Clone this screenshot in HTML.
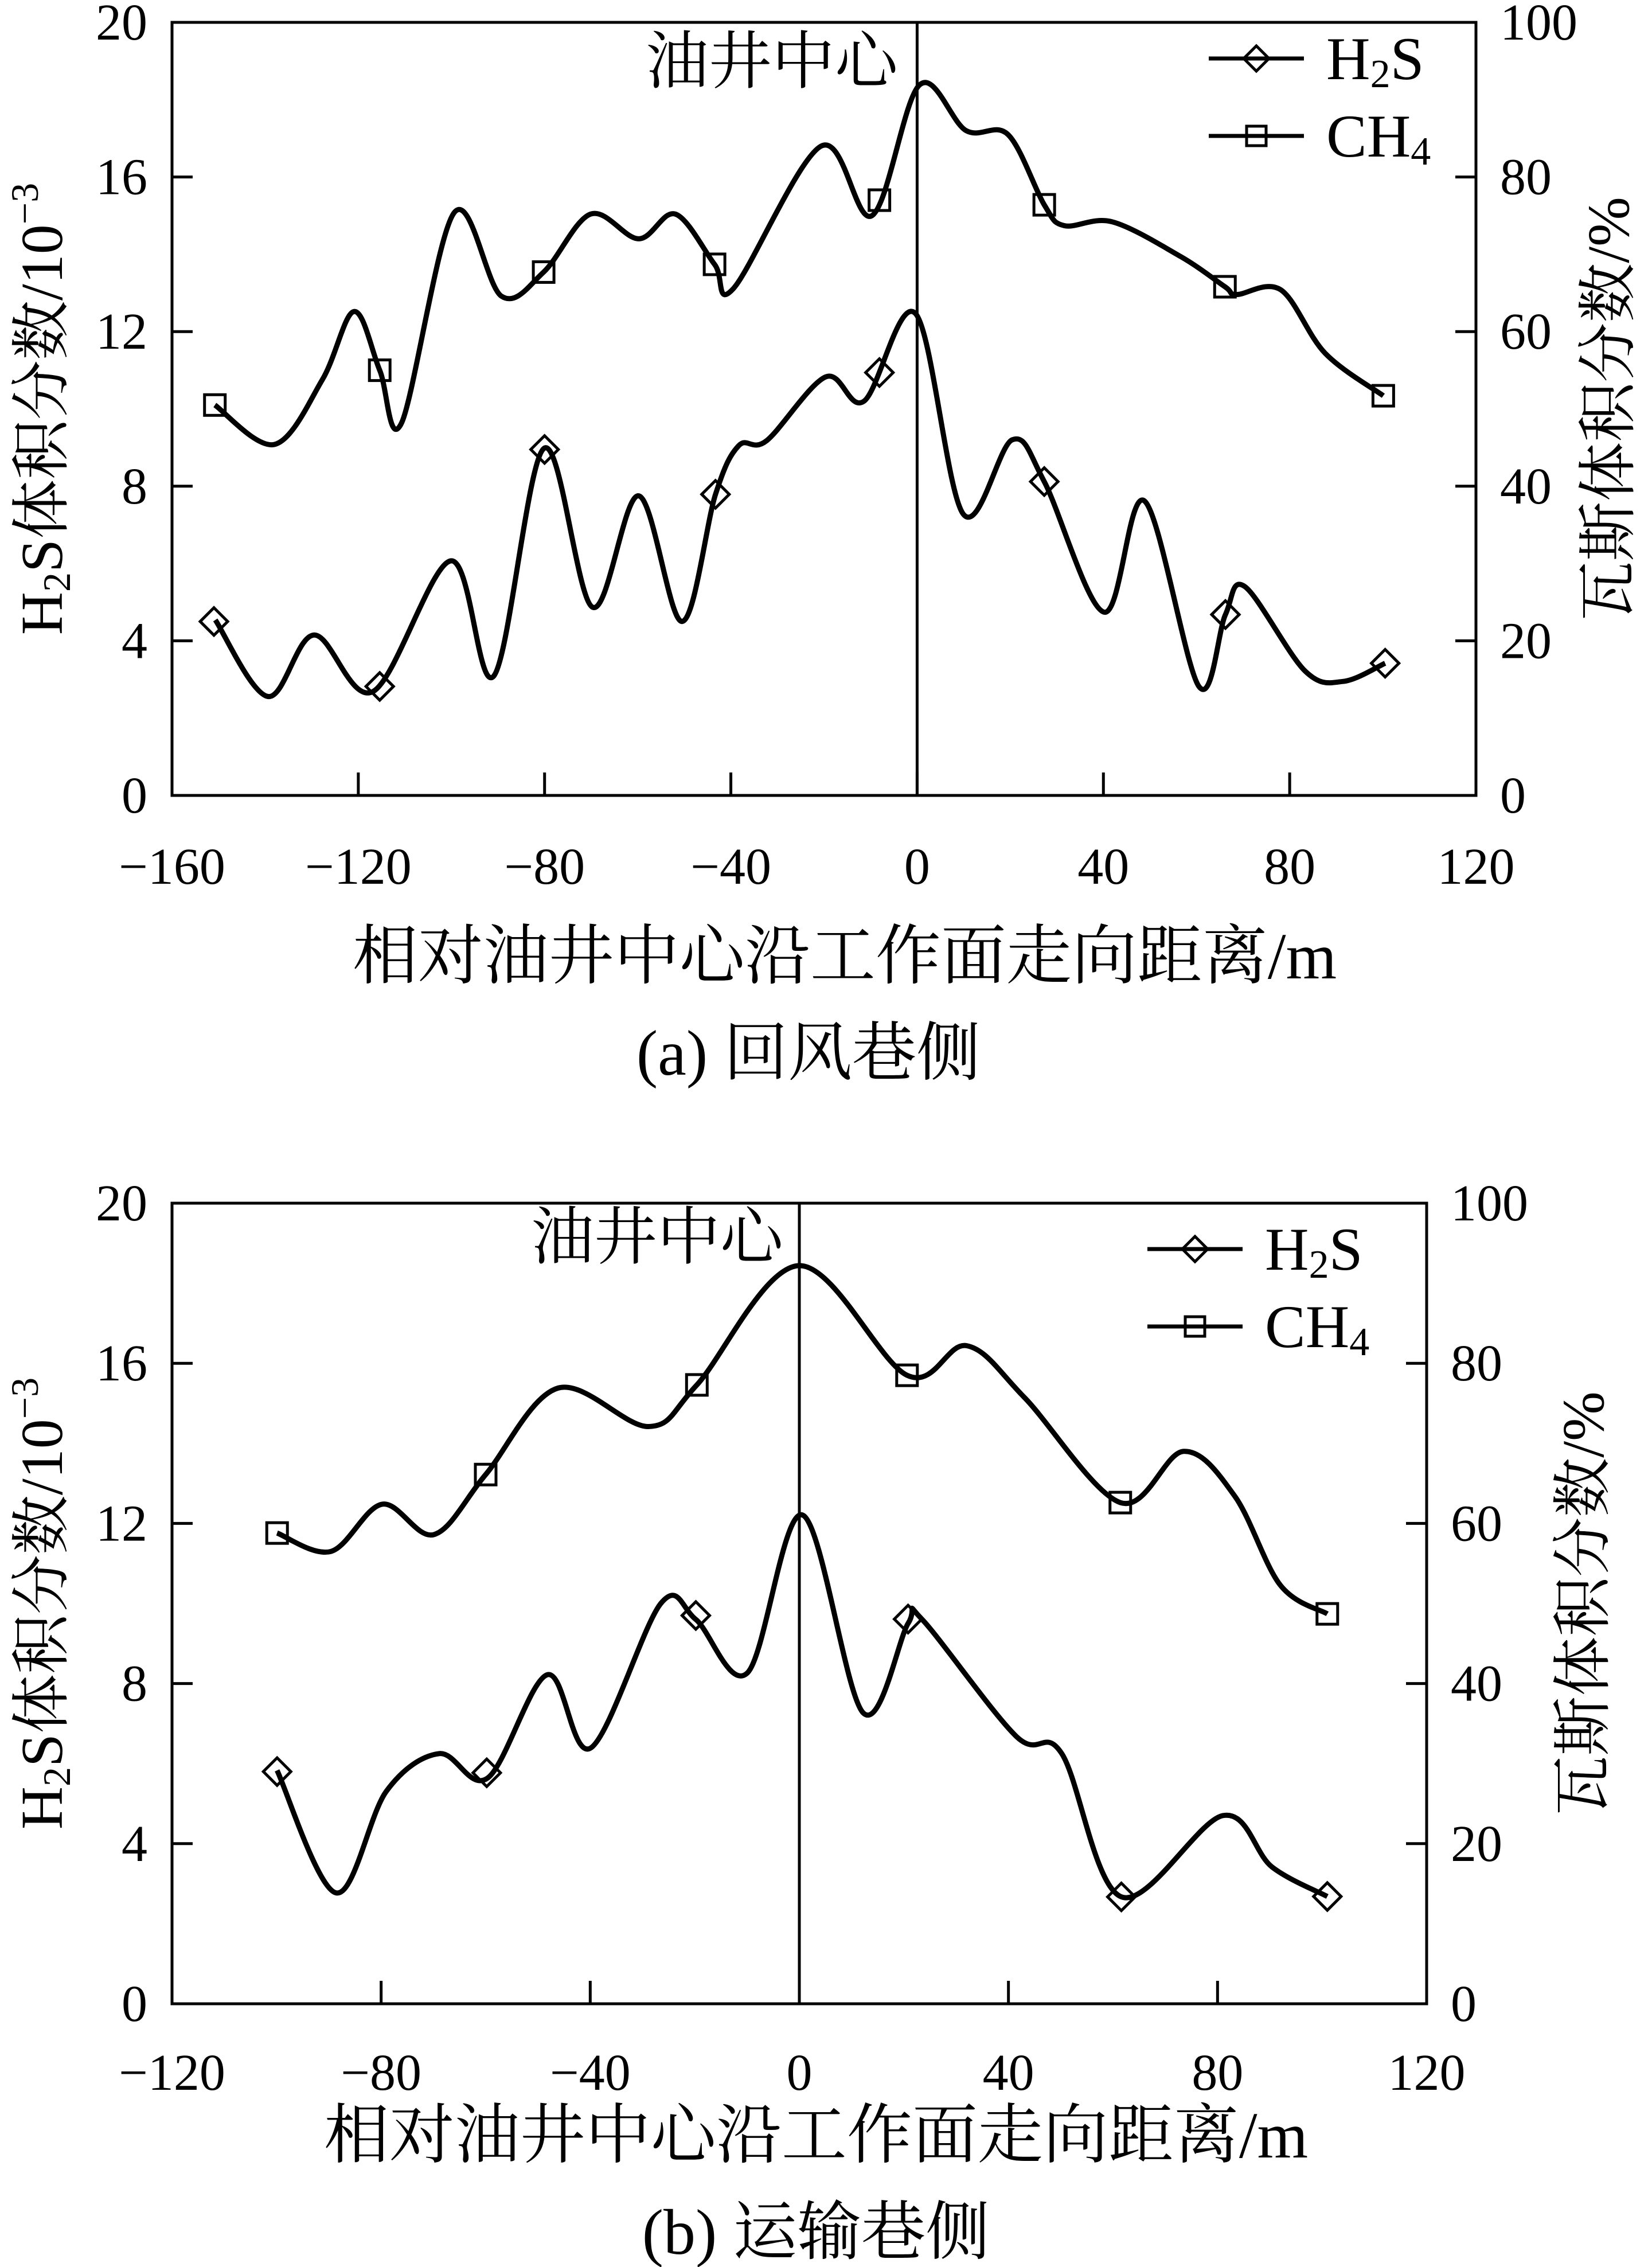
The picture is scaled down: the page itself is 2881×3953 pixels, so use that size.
<!DOCTYPE html>
<html><head><meta charset="utf-8"><style>
html,body{margin:0;padding:0;background:#fff;}
svg{display:block;}
text{font-family:"Liberation Serif","Noto Serif CJK SC",serif;fill:#000;}
</style></head><body>
<svg id="svg" xmlns="http://www.w3.org/2000/svg" width="2881" height="3953" viewBox="0 0 2881 3953"></svg>
<script>
// ---- Chart (a) data ----
const aH2sX = [-150.7,-139.4,-129.5,-116.8,-100.1,-90.9,-80.1,-69.7,-59.8,-50.5,-43.3,-38.3,-32.3,-19.6,-11.4,-0.3,9.9,20.4,27.3,40.2,48.8,60.5,66.2,70.4,83.3,91.5,100.5];
const aH2sV = [4.54,2.56,4.15,2.69,6.07,3.09,8.98,4.87,7.75,4.5,7.79,9.05,9.18,10.83,10.2,12.46,7.28,9.2,8.12,4.74,7.62,2.82,4.68,5.4,3.22,2.95,3.42];
const aH2sMarkX = [-151,-115.4,-80,-43.3,-8.1,27.3,66.2,100.5];
const aH2sMarkV = [4.5,2.82,8.95,7.79,10.94,8.12,4.68,3.42];
const aCh4X = [-150.8,-138,-127.7,-120.9,-115.4,-110.7,-99.4,-89.3,-80.2,-70.1,-59.8,-51.9,-43.5,-39.4,-20.6,-9.7,0.5,10.5,19.5,27.3,31.6,41.9,56.6,66.1,68.6,78.1,87.6,100.1];
const aCh4V = [50.5,45.4,53.8,62.6,55,48.2,75.4,64.6,67.7,75.2,72,75.2,68.7,65.6,84,75,91.9,86,85.5,76.4,73.7,74.2,69.7,65.8,64.8,65.4,57.2,51.7];
const aCh4MarkX = [-150.8,-115.4,-80.2,-43.5,-8.1,27.3,66.1,100.1];
const aCh4MarkV = [50.5,55,67.7,68.7,77,76.4,65.8,51.7];
const aXTicks = [-160,-120,-80,-40,0,40,80,120];
const aXTickLabels = ["\u2212160","\u2212120","\u221280","\u221240","0","40","80","120"];
// ---- Chart (b) data ----
const bH2sX = [-99.9,-88.6,-79,-68.9,-59.6,-48.2,-39.9,-26.5,-19.8,-9.9,0.6,12.2,20.8,23.5,41.5,50.2,61.6,81,90.4,101];
const bH2sV = [5.83,2.77,5.31,6.25,5.64,8.22,6.39,10.0,9.6,8.27,12.21,7.27,9.5,9.6,6.68,6.25,2.67,4.7,3.42,2.68];
const bH2sMarkX = [-99.9,-59.8,-19.8,20.8,61.6,101];
const bH2sMarkV = [5.8,5.77,9.7,9.61,2.67,2.68];
const bCh4X = [-99.9,-89.6,-79.8,-69.9,-60,-46.2,-28.9,-19.6,-0.1,20.6,32,43.1,61.4,73.5,83.3,92,101];
const bCh4V = [58.8,56.5,62.4,58.6,66.1,76.9,72.1,77.3,92.2,78.5,82.2,75.7,62.6,69,63.4,52.3,48.7];
const bCh4MarkX = [-99.9,-60,-19.6,20.6,61.4,101];
const bCh4MarkV = [58.8,66.1,77.3,78.5,62.6,48.7];
const bXTicks = [-120,-80,-40,0,40,80,120];
const bXTickLabels = ["\u2212120","\u221280","\u221240","0","40","80","120"];
const leftTicks = [0,4,8,12,16,20];
const leftTickLabels = ["0","4","8","12","16","20"];
const rightTicks = [0,20,40,60,80,100];
const rightTickLabels = ["0","20","40","60","80","100"];

const NS="http://www.w3.org/2000/svg";
const svg=document.getElementById('svg');
function mk(tag,attrs,parent){const e=document.createElementNS(NS,tag);for(const k in attrs)e.setAttribute(k,attrs[k]);(parent||svg).appendChild(e);return e;}
function spline(pts){
  let d="M"+pts[0][0].toFixed(1)+","+pts[0][1].toFixed(1);
  for(let i=0;i<pts.length-1;i++){
    const p0=pts[Math.max(0,i-1)],p1=pts[i],p2=pts[i+1],p3=pts[Math.min(pts.length-1,i+2)];
    const c1=[p1[0]+(p2[0]-p0[0])/6,p1[1]+(p2[1]-p0[1])/6];
    const c2=[p2[0]-(p3[0]-p1[0])/6,p2[1]-(p3[1]-p1[1])/6];
    d+=" C"+c1[0].toFixed(1)+","+c1[1].toFixed(1)+" "+c2[0].toFixed(1)+","+c2[1].toFixed(1)+" "+p2[0].toFixed(1)+","+p2[1].toFixed(1);
  }
  return d;
}
function diamond(g,x,y,r){const p=mk('path',{d:`M${x-r},${y} L${x},${y-r} L${x+r},${y} L${x},${y+r} Z`,fill:'none',stroke:'#000','stroke-width':5},g);return p;}
function square(g,x,y,s){return mk('rect',{x:x-s/2,y:y-s/2,width:s,height:s,fill:'none',stroke:'#000','stroke-width':5},g);}

function chart(c){
  const g=mk('g',{});
  
  
  const X=v=>c.x0+(v-c.xmin)/(c.xmax-c.xmin)*(c.x1-c.x0);
  const YL=v=>c.y1-v/20*(c.y1-c.y0);
  const YR=v=>c.y1-v/100*(c.y1-c.y0);
  const frame=mk('rect',{x:c.x0,y:c.y0,width:c.x1-c.x0,height:c.y1-c.y0,fill:'none',stroke:'#000','stroke-width':5},g);
  
  
  leftTicks.forEach((t,i)=>{
    const y=YL(t);
    const l=mk('line',{x1:c.x0,x2:c.x0+36,y1:y,y2:y,stroke:'#000','stroke-width':5},g);
    
    
    const tx=mk('text',{x:c.lx,y:y+30,'font-size':90,'text-anchor':'end'},g);tx.textContent=leftTickLabels[i];
    
    
  });
  rightTicks.forEach((t,i)=>{
    const y=YR(t);
    const l=mk('line',{x1:c.x1,x2:c.x1-36,y1:y,y2:y,stroke:'#000','stroke-width':5},g);
    
    
    const tx=mk('text',{x:c.rx,y:y+30,'font-size':90},g);tx.textContent=rightTickLabels[i];
    
    
  });
  c.xt.forEach((t,i)=>{
    const x=X(t);
    if(t>c.xmin&&t<c.xmax){const l=mk('line',{x1:x,x2:x,y1:c.y1,y2:c.y1-40,stroke:'#000','stroke-width':5},g);
    
    }
    const tx=mk('text',{x:x,y:c.y1+c.bl,'font-size':90,'text-anchor':'middle'},g);tx.textContent=c.xtl[i];
    
    
  });
  const vl=mk('line',{x1:X(0),x2:X(0),y1:c.y0,y2:c.y1,stroke:'#000','stroke-width':5},g);
  
  
  const an=mk('text',{x:c.anx,y:c.any,'font-size':110,'text-anchor':'end'},g);an.textContent='油井中心';
  
  
  const h=mk('path',{d:spline(c.hx.map((v,i)=>[X(v),YL(c.hv[i])])),fill:'none',stroke:'#000','stroke-width':9},g);
  
  
  const m=mk('path',{d:spline(c.cx.map((v,i)=>[X(v),YR(c.cv[i])])),fill:'none',stroke:'#000','stroke-width':9},g);
  
  
  c.hmx.forEach((v,i)=>{const p=diamond(g,X(v),YL(c.hmv[i]),24);
    
    });
  c.cmx.forEach((v,i)=>{const p=square(g,X(v),YR(c.cmv[i]),36);
    
    });
  const l1=mk('line',{x1:c.legx,x2:c.legx+166,y1:c.legy,y2:c.legy,stroke:'#000','stroke-width':7},g);
  
  
  const ld=diamond(g,c.legx+83,c.legy,22);
  
  
  const t1=mk('text',{x:c.legx+205,y:c.legy+36,'font-size':106},g);
  t1.innerHTML='H<tspan font-size="70" dy="14">2</tspan><tspan dy="-14">S</tspan>';
  
  
  const l2=mk('line',{x1:c.legx,x2:c.legx+166,y1:c.legy+135,y2:c.legy+135,stroke:'#000','stroke-width':7},g);
  
  
  const ls=square(g,c.legx+83,c.legy+135,34);
  
  
  const t2=mk('text',{x:c.legx+205,y:c.legy+171,'font-size':106},g);
  t2.innerHTML='CH<tspan font-size="70" dy="14">4</tspan>';
  
  
  const cyMid=(c.y0+c.y1)/2;
  const lt=mk('text',{x:0,y:0,'font-size':104,'text-anchor':'middle',transform:`translate(${c.ltx},${cyMid}) rotate(-90)`},g);
  lt.innerHTML='H<tspan font-size="68" dy="14">2</tspan><tspan dy="-14">S体积分数/10</tspan><tspan font-size="68" dy="-42">\u22123</tspan>';
  
  
  const rt=mk('text',{x:0,y:0,'font-size':104,'text-anchor':'middle',transform:`translate(${c.rtx},${cyMid}) rotate(-90)`},g);
  rt.textContent='瓦斯体积分数/%';
  
  
  const xt=mk('text',{x:c.xlx,y:c.xly,'font-size':114,'text-anchor':'middle'},g);
  xt.textContent='相对油井中心沿工作面走向距离/m';
  
  
  const cp=mk('text',{x:c.cpx,y:c.cpy,'font-size':112,'text-anchor':'middle'},g);
  cp.textContent=c.caption;
  
  
}
chart({name:'chart-a-return-airway',x0:300,x1:2574,y0:39,y1:1387,xmin:-160,xmax:120,lx:257,rx:2616,bl:154,
  xt:aXTicks,xtl:aXTickLabels,anx:1566,any:145,hx:aH2sX,hv:aH2sV,cx:aCh4X,cv:aCh4V,hmx:aH2sMarkX,hmv:aH2sMarkV,cmx:aCh4MarkX,cmv:aCh4MarkV,
  legx:2108,legy:102,ltx:108,rtx:2840,xlx:1473,xly:1706,cpx:1410,cpy:1874,caption:'(a)  回风巷侧'});
chart({name:'chart-b-haulage-airway',x0:300,x1:2488,y0:2098,y1:3494,xmin:-120,xmax:120,lx:257,rx:2530,bl:150,
  xt:bXTicks,xtl:bXTickLabels,anx:1366,any:2195,hx:bH2sX,hv:bH2sV,cx:bCh4X,cv:bCh4V,hmx:bH2sMarkX,hmv:bH2sMarkV,cmx:bCh4MarkX,cmv:bCh4MarkV,
  legx:2001,legy:2178,ltx:108,rtx:2796,xlx:1423,xly:3762,cpx:1423,cpy:3930,caption:'(b)  运输巷侧'});
</script>
</body></html>
